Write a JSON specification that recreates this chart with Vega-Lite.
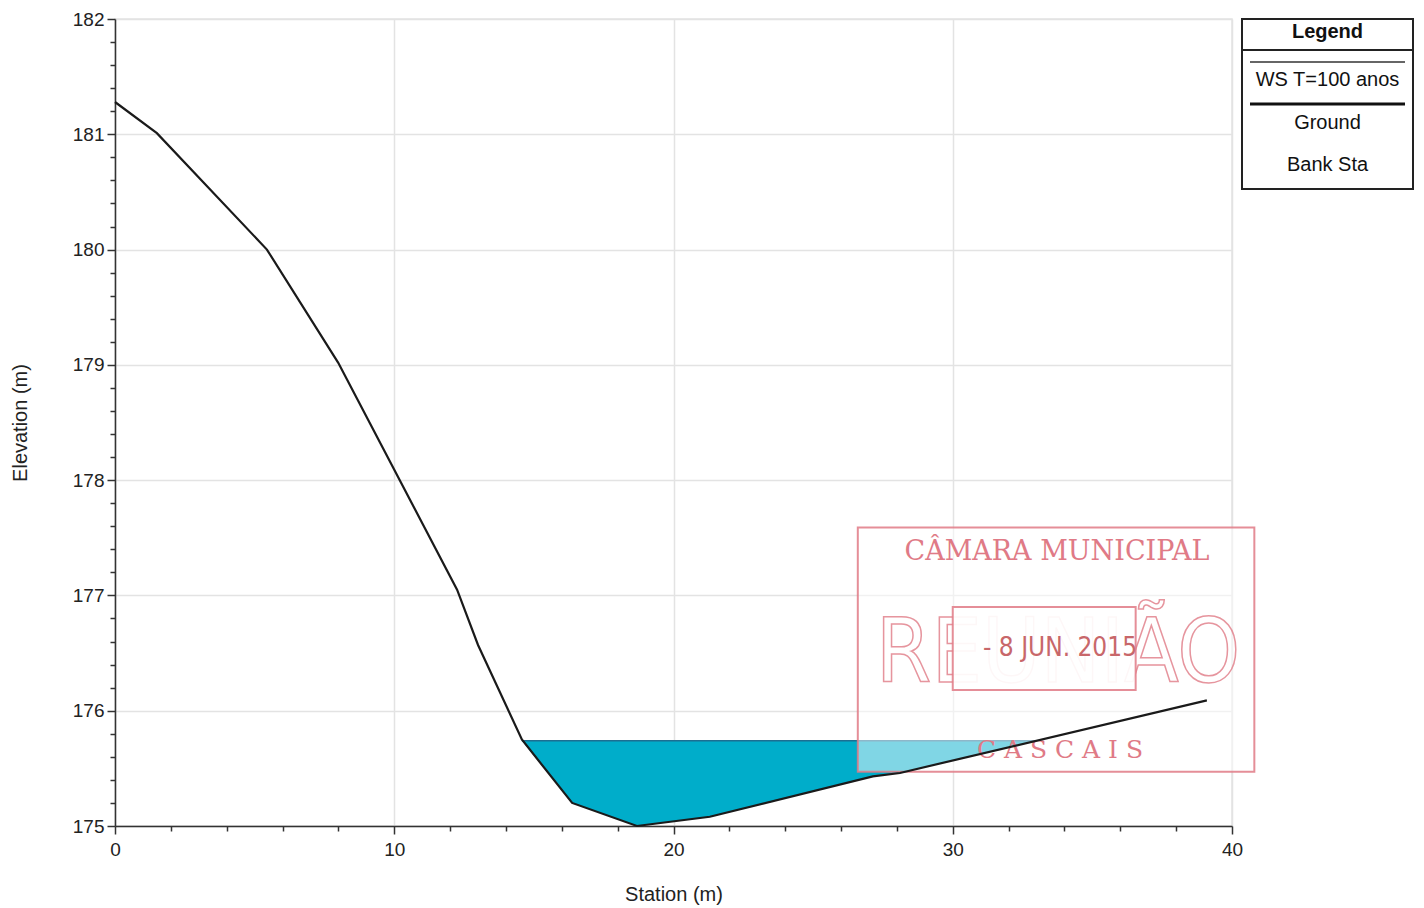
{
  "$schema": "https://vega.github.io/schema/vega-lite/v6.json",
  "background": "white",
  "padding": {"left": 9, "top": 9, "right": 0, "bottom": 0},
  "bounds": "flush",
  "spacing": 10,
  "datasets": {
    "ground": [
      {"station": 0, "elevation": 181.28},
      {"station": 1.5, "elevation": 181.01},
      {"station": 5.44, "elevation": 180.0},
      {"station": 7.99, "elevation": 179.02},
      {"station": 12.25, "elevation": 177.05},
      {"station": 13.0, "elevation": 176.57},
      {"station": 14.57, "elevation": 175.75},
      {"station": 16.37, "elevation": 175.2},
      {"station": 18.69, "elevation": 175.0},
      {"station": 21.3, "elevation": 175.08},
      {"station": 27.14, "elevation": 175.43},
      {"station": 28.11, "elevation": 175.46},
      {"station": 39.1, "elevation": 176.09}
    ],
    "water": [
      {"station": 14.57, "ground": 175.74, "ws": 175.74},
      {"station": 16.37, "ground": 175.2, "ws": 175.74},
      {"station": 18.69, "ground": 175.0, "ws": 175.74},
      {"station": 21.3, "ground": 175.08, "ws": 175.74},
      {"station": 27.14, "ground": 175.43, "ws": 175.74},
      {"station": 28.11, "ground": 175.46, "ws": 175.74},
      {"station": 33.0, "ground": 175.74, "ws": 175.74}
    ]
  },
  "config": {
    "font": "Liberation Sans",
    "axis": {
      "domainColor": "#333333",
      "domainWidth": 1.5,
      "tickColor": "#333333",
      "tickWidth": 1.5,
      "labelFlush": false,
      "labelFont": "Liberation Sans",
      "labelFontSize": 19,
      "labelColor": "#222222",
      "titleFont": "Liberation Sans",
      "titleFontSize": 20,
      "titleFontWeight": "normal",
      "titleColor": "#222222",
      "gridColor": "#e3e3e3",
      "gridWidth": 1.5
    },
    "view": {"stroke": "#e3e3e3", "strokeWidth": 1.5}
  },
  "hconcat": [
    {
      "width": 1117,
      "height": 807,
      "layer": [
        {
          "data": {"name": "water"},
          "mark": {"type": "area", "color": "#00adca", "opacity": 1},
          "encoding": {
            "x": {
              "field": "station", "type": "quantitative",
              "scale": {"domain": [0, 40], "nice": false, "zero": false},
              "axis": {
                "title": "Station (m)",
                "values": [0,2,4,6,8,10,12,14,16,18,20,22,24,26,28,30,32,34,36,38,40],
                "tickCount": 100,
                "format": "d",
                "labelExpr": "datum.value % 10 === 0 ? datum.label : ''",
                "tickSize": {"condition": {"test": "datum.value % 10 === 0", "value": 8}, "value": 5},
                "gridOpacity": {"condition": {"test": "datum.value % 10 === 0", "value": 1}, "value": 0},
                "labelPadding": 6,
                "titlePadding": 25
              }
            },
            "y": {
              "field": "ground", "type": "quantitative",
              "scale": {"domain": [175, 182], "nice": false, "zero": false},
              "axis": {
                "title": "Elevation (m)",
                "tickCount": 36,
                "labelOverlap": false,
                "labelExpr": "abs(datum.value - round(datum.value)) < 0.001 ? format(datum.value, 'd') : ''",
                "tickSize": {"condition": {"test": "abs(datum.value - round(datum.value)) < 0.001", "value": 8}, "value": 5},
                "gridOpacity": {"condition": {"test": "abs(datum.value - round(datum.value)) < 0.001", "value": 1}, "value": 0},
                "labelPadding": 3,
                "titlePadding": 42
              }
            },
            "y2": {"field": "ws"}
          }
        },
        {
          "data": {"name": "water"},
          "mark": {"type": "line", "color": "#1c6f92", "strokeWidth": 1.5},
          "encoding": {
            "x": {"field": "station", "type": "quantitative"},
            "y": {"field": "ws", "type": "quantitative"}
          }
        },
        {
          "data": {"values": [{}]},
          "mark": {"type": "rect", "fill": "white", "fillOpacity": 0.5, "stroke": "#e07a86", "strokeWidth": 2, "strokeOpacity": 0.85},
          "encoding": {
            "x": {"datum": 26.6, "type": "quantitative"},
            "x2": {"datum": 40.8},
            "y": {"datum": 175.47, "type": "quantitative"},
            "y2": {"datum": 177.59}
          }
        },
        {
          "data": {"values": [{}]},
          "mark": {"type": "text", "text": "REUNIÃO", "font": "DejaVu Sans Condensed, sans-serif", "fontSize": 89, "fill": "white", "fillOpacity": 0, "stroke": "#e07a86", "strokeWidth": 1.5, "strokeOpacity": 0.8, "align": "center", "baseline": "middle"},
          "encoding": {
            "x": {"datum": 33.77, "type": "quantitative"},
            "y": {"datum": 176.48, "type": "quantitative"}
          }
        },
        {
          "data": {"values": [{}]},
          "mark": {"type": "rect", "fill": "white", "fillOpacity": 0.92, "stroke": "#e07a86", "strokeWidth": 2, "strokeOpacity": 0.85},
          "encoding": {
            "x": {"datum": 30.0, "type": "quantitative"},
            "x2": {"datum": 36.55},
            "y": {"datum": 176.18, "type": "quantitative"},
            "y2": {"datum": 176.9}
          }
        },
        {
          "data": {"values": [{}]},
          "mark": {"type": "text", "text": "- 8 JUN. 2015", "font": "DejaVu Sans Condensed, sans-serif", "fontSize": 26, "fill": "#c8676a", "align": "center", "baseline": "middle"},
          "encoding": {
            "x": {"datum": 33.84, "type": "quantitative"},
            "y": {"datum": 176.54, "type": "quantitative"}
          }
        },
        {
          "data": {"values": [{}]},
          "mark": {"type": "text", "text": "CÂMARA MUNICIPAL", "font": "DejaVu Serif", "fontSize": 27, "fill": "#e07a86", "align": "center", "baseline": "middle"},
          "encoding": {
            "x": {"datum": 33.73, "type": "quantitative"},
            "y": {"datum": 177.38, "type": "quantitative"}
          }
        },
        {
          "data": {"values": [{}]},
          "mark": {"type": "text", "text": "C A S C A I S", "font": "DejaVu Serif", "fontSize": 25, "fill": "#e07a86", "align": "center", "baseline": "middle"},
          "encoding": {
            "x": {"datum": 33.84, "type": "quantitative"},
            "y": {"datum": 175.66, "type": "quantitative"}
          }
        },
        {
          "data": {"name": "ground"},
          "mark": {"type": "line", "color": "#1a1a1a", "strokeWidth": 2.2},
          "encoding": {
            "x": {"field": "station", "type": "quantitative"},
            "y": {"field": "elevation", "type": "quantitative"}
          }
        }
      ]
    },
    {
      "width": 171,
      "height": 170,
      "view": {"stroke": "#222222", "strokeWidth": 2},
      "data": {"values": [{}]},
      "layer": [
        {
          "mark": {"type": "text", "text": "Legend", "fontSize": 20, "fontWeight": "bold", "fill": "#111111", "align": "center", "baseline": "middle"},
          "encoding": {
            "x": {"datum": 85.5, "type": "quantitative", "scale": {"domain": [0, 171], "nice": false}, "axis": null},
            "y": {"datum": 13, "type": "quantitative", "scale": {"domain": [0, 170], "reverse": true, "nice": false}, "axis": null}
          }
        },
        {
          "mark": {"type": "rule", "color": "#222222", "strokeWidth": 2},
          "encoding": {
            "x": {"datum": 0, "type": "quantitative"},
            "x2": {"datum": 171},
            "y": {"datum": 31, "type": "quantitative"}
          }
        },
        {
          "mark": {"type": "rule", "color": "#333333", "strokeWidth": 1.5},
          "encoding": {
            "x": {"datum": 8, "type": "quantitative"},
            "x2": {"datum": 163},
            "y": {"datum": 43, "type": "quantitative"}
          }
        },
        {
          "mark": {"type": "text", "text": "WS T=100 anos", "fontSize": 20, "fill": "#111111", "align": "center", "baseline": "middle"},
          "encoding": {
            "x": {"datum": 85.5, "type": "quantitative"},
            "y": {"datum": 61, "type": "quantitative"}
          }
        },
        {
          "mark": {"type": "rule", "color": "#111111", "strokeWidth": 3},
          "encoding": {
            "x": {"datum": 8, "type": "quantitative"},
            "x2": {"datum": 163},
            "y": {"datum": 85, "type": "quantitative"}
          }
        },
        {
          "mark": {"type": "text", "text": "Ground", "fontSize": 20, "fill": "#111111", "align": "center", "baseline": "middle"},
          "encoding": {
            "x": {"datum": 85.5, "type": "quantitative"},
            "y": {"datum": 104, "type": "quantitative"}
          }
        },
        {
          "mark": {"type": "text", "text": "Bank Sta", "fontSize": 20, "fill": "#111111", "align": "center", "baseline": "middle"},
          "encoding": {
            "x": {"datum": 85.5, "type": "quantitative"},
            "y": {"datum": 146, "type": "quantitative"}
          }
        }
      ]
    }
  ]
}
